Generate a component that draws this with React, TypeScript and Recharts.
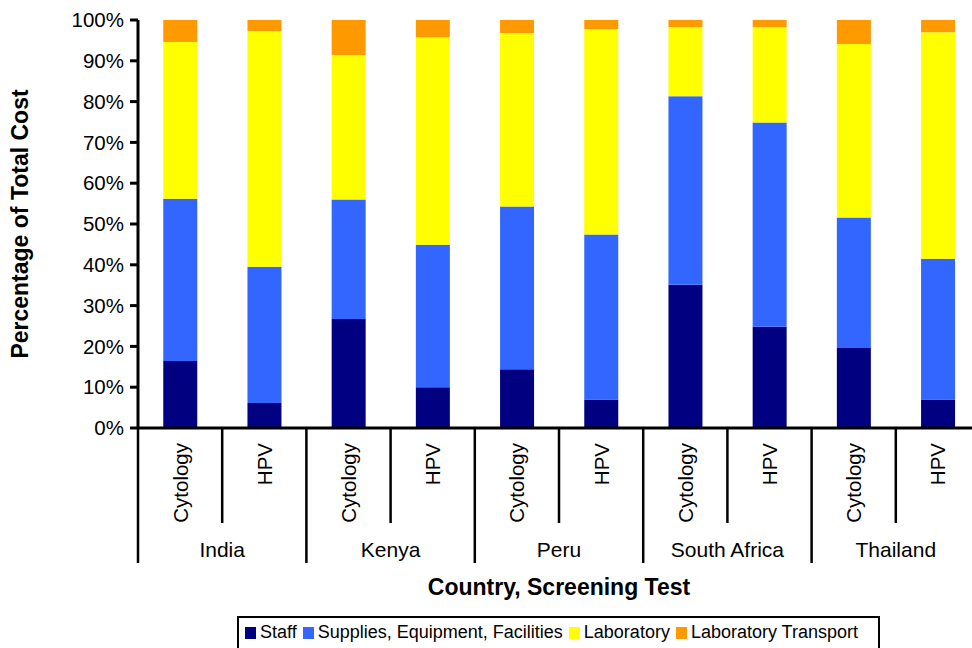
import { Bar, BarChart, Label, XAxis, YAxis } from 'recharts';

const CHART_W = 990;
const CHART_H = 648;
const PLOT_LEFT = 138;
const PLOT_RIGHT = 980;
const PLOT_TOP = 20;
const PLOT_BOTTOM = 428;
const FONT = '"Liberation Sans", Arial, sans-serif';

const countries = ['India', 'Kenya', 'Peru', 'South Africa', 'Thailand'];
const tests = ['Cytology', 'HPV'];

const staff = [16.4, 6.1, 26.7, 10.0, 14.4, 7.0, 35.1, 24.8, 19.6, 7.0];
const supplies = [39.8, 33.4, 29.3, 34.9, 39.9, 40.4, 46.2, 50.1, 32.0, 34.5];
const laboratory = [38.4, 57.8, 35.4, 50.9, 42.5, 50.4, 17.0, 23.4, 42.5, 55.5];
const transport = [5.4, 2.7, 8.6, 4.2, 3.2, 2.2, 1.7, 1.7, 5.9, 3.0];

const yTicks = [0, 10, 20, 30, 40, 50, 60, 70, 80, 90, 100];

const series = [
  { key: 'staff', name: 'Staff', color: '#000080', values: staff },
  { key: 'supplies', name: 'Supplies, Equipment, Facilities', color: '#3366FF', values: supplies },
  { key: 'laboratory', name: 'Laboratory', color: '#FFFF00', values: laboratory },
  { key: 'transport', name: 'Laboratory Transport', color: '#FF9900', values: transport },
];

const data = countries.flatMap((country, ci) =>
  tests.map((test, ti) => {
    const i = ci * tests.length + ti;
    const row: Record<string, any> = { id: i, country, test };
    series.forEach((s) => (row[s.key] = s.values[i]));
    return row;
  })
);

const BAND = (PLOT_RIGHT - PLOT_LEFT) / data.length;

function CategoryTick(props: any) {
  const { x, payload } = props;
  const i = payload.value as number;
  const row = data[i];
  const left = x - BAND / 2;
  const groupStart = i % tests.length === 0;
  const last = i === data.length - 1;
  return (
    <g>
      <line x1={left} x2={left} y1={PLOT_BOTTOM} y2={groupStart ? 563 : 523} stroke="#000" strokeWidth={2.5} />
      {last && (
        <line x1={x + BAND / 2} x2={x + BAND / 2} y1={PLOT_BOTTOM} y2={563} stroke="#000" strokeWidth={2.5} />
      )}
      <text
        transform={`translate(${x + 7.5}, 443) rotate(-90)`}
        textAnchor="end"
        fontSize={20.5}
        fontFamily={FONT}
        fill="#000"
      >
        {row.test}
      </text>
      {groupStart && (
        <text x={left + BAND} y={557} textAnchor="middle" fontSize={21} fontFamily={FONT} fill="#000">
          {row.country}
        </text>
      )}
    </g>
  );
}

export default function App() {
  return (
    <div
      style={{
        position: 'absolute',
        left: 0,
        top: 0,
        width: 972,
        height: 648,
        overflow: 'hidden',
        background: '#fff',
        fontFamily: FONT,
      }}
    >
      <BarChart
        width={CHART_W}
        height={CHART_H}
        data={data}
        margin={{ top: PLOT_TOP, right: CHART_W - PLOT_RIGHT, left: 0, bottom: 0 }}
        barCategoryGap="30%"
      >
        <XAxis
          dataKey="id"
          type="category"
          height={CHART_H - PLOT_BOTTOM}
          interval={0}
          tickLine={false}
          axisLine={{ stroke: '#000', strokeWidth: 3 }}
          tick={<CategoryTick />}
        >
          <Label
            content={(p: any) => (
              <text
                x={p.viewBox.x + p.viewBox.width / 2}
                y={595}
                textAnchor="middle"
                fontSize={23}
                fontWeight="bold"
                fontFamily={FONT}
                fill="#000"
              >
                Country, Screening Test
              </text>
            )}
          />
        </XAxis>
        <YAxis
          width={PLOT_LEFT}
          domain={[0, 100]}
          ticks={yTicks}
          interval={0}
          allowDataOverflow
          tickFormatter={(v: number) => `${v}%`}
          tick={{ fill: '#000', fontSize: 20.5, fontFamily: FONT }}
          tickSize={8}
          tickMargin={6}
          tickLine={{ stroke: '#000', strokeWidth: 3 }}
          axisLine={{ stroke: '#000', strokeWidth: 3 }}
        >
          <Label
            content={(p: any) => (
              <text
                transform={`translate(28, ${p.viewBox.y + p.viewBox.height / 2}) rotate(-90)`}
                textAnchor="middle"
                fontSize={23}
                fontWeight="bold"
                fontFamily={FONT}
                fill="#000"
              >
                Percentage of Total Cost
              </text>
            )}
          />
        </YAxis>
        {series.map((s) => (
          <Bar key={s.key} dataKey={s.key} name={s.name} stackId="cost" fill={s.color} isAnimationActive={false} />
        ))}
      </BarChart>
      <div
        style={{
          position: 'absolute',
          left: 237,
          top: 616,
          width: 643,
          height: 40,
          border: '2px solid #000',
          display: 'flex',
          alignItems: 'flex-start',
          paddingTop: 4,
          paddingLeft: 6,
          boxSizing: 'border-box',
          fontSize: 18,
          color: '#000',
          whiteSpace: 'nowrap',
        }}
      >
        {series.map((s) => (
          <span key={s.key} style={{ display: 'flex', alignItems: 'center', marginRight: 6 }}>
            <span style={{ width: 11, height: 12, background: s.color, marginRight: 4, display: 'inline-block' }} />
            {s.name}
          </span>
        ))}
      </div>
    </div>
  );
}
